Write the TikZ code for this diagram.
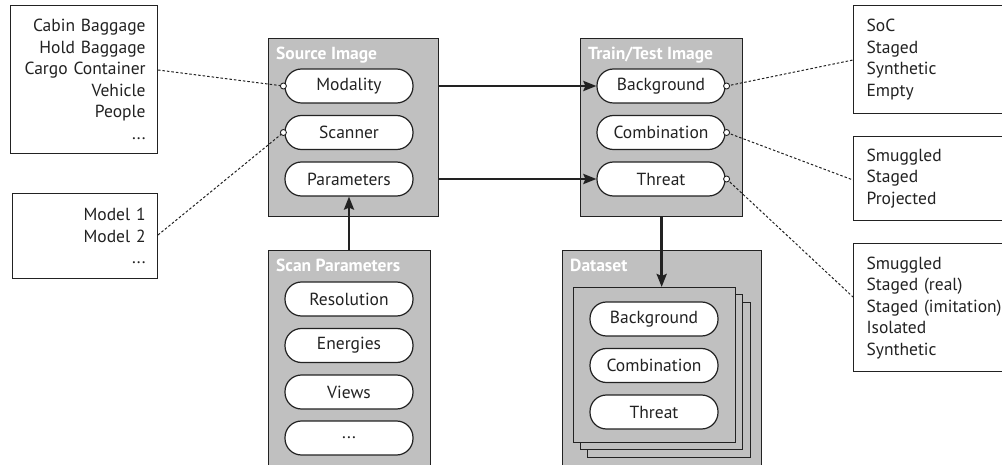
\documentclass[tikz,border=0pt]{standalone}
\usepackage{fontspec}
\setmainfont{PT Sans}
\usetikzlibrary{arrows.meta,calc}
\definecolor{panelgray}{HTML}{C0C0C0}
\definecolor{ink}{HTML}{222222}

\begin{document}
\begin{tikzpicture}[x=1pt,y=-1pt,
  font=\fontsize{17.5}{21.5}\selectfont,
  every node/.style={text=ink},
  panel/.style={draw=ink, fill=panelgray, line width=1.3pt, inner sep=0pt, anchor=north west},
  sheet/.style={draw=ink, fill=panelgray, line width=1.3pt},
  title/.style={anchor=base west, inner sep=0pt, text=white, font=\fontsize{17.5}{20}\selectfont\bfseries},
  pill/.style={draw=ink, fill=white, line width=1.2pt, rounded corners=16.5pt,
    minimum width=128pt, minimum height=34pt, inner sep=0pt},
  listbox/.style={draw=ink, fill=white, line width=1.2pt, inner ysep=0pt, anchor=north west},
  flow/.style={draw=ink, line width=2.6pt, -{Stealth[length=13pt,width=10pt,inset=2pt]}},
  hint/.style={draw=ink, line width=1pt, dash pattern=on 2.5pt off 2pt},
  port/.style={draw=ink, fill=white, line width=0.9pt}
]
\useasboundingbox (0,0) rectangle (1002,465);
\clip (0,0) rectangle (1002,465);

% option lists on the left
\node[listbox, minimum width=147pt, minimum height=148pt, inner xsep=12pt,
      text width=123pt, align=right] (kinds) at (10,5)
  {Cabin Baggage\\Hold Baggage\\Cargo Container\\Vehicle\\People\\...};
\node[listbox, minimum width=145pt, minimum height=85pt, inner xsep=12pt,
      text width=121pt, align=right] (models) at (12,193)
  {Model 1\\Model 2\\...};

% option lists on the right
\node[listbox, minimum width=180pt, minimum height=108pt, inner xsep=13pt,
      text width=154pt, align=left] (bgkinds) at (853,5)
  {SoC\\Staged\\Synthetic\\Empty};
\node[listbox, minimum width=180pt, minimum height=84pt, inner xsep=13pt,
      text width=154pt, align=left] (combkinds) at (853,136)
  {Smuggled\\Staged\\Projected};
\node[listbox, minimum width=180pt, minimum height=128pt, inner xsep=13pt,
      text width=154pt, align=left] (thrkinds) at (853,243)
  {Smuggled\\Staged (real)\\Staged (imitation)\\Isolated\\Synthetic};

% source image panel
\node[panel, minimum width=170pt, minimum height=178pt] (src) at (268,38) {};
\node[title] (srct) at (276,60) {Source Image};
\node[pill] (mod) at (349,86) {Modality};
\node[pill] (scn) at (349,132.5) {Scanner};
\node[pill] (par) at (349,179) {Parameters};

% scan parameters panel
\node[panel, minimum width=162pt, minimum height=240pt] (scan) at (268,250) {};
\node[title] (scant) at (276,272) {Scan Parameters};
\node[pill] (res) at (349,299) {Resolution};
\node[pill] (ene) at (349,345.5) {Energies};
\node[pill] (vie) at (349,392) {Views};
\node[pill] (etc) at (349,438) {...};

% train/test image panel
\node[panel, minimum width=162pt, minimum height=178pt] (tt) at (580,38) {};
\node[title] (ttt) at (588,60) {Train/Test Image};
\node[pill] (bg) at (661,86) {Background};
\node[pill] (comb) at (661,132.5) {Combination};
\node[pill] (thr) at (661,179) {Threat};

% dataset panel with a stack of images
\node[panel, minimum width=199pt, minimum height=240pt] (ds) at (562,250) {};
\node[title] (dst) at (570,272) {Dataset};
\node[sheet, panel, minimum width=163pt, minimum height=155pt] (s3) at (587,302) {};
\node[sheet, panel, minimum width=162pt, minimum height=155pt] (s2) at (580,294) {};
\node[sheet, panel, minimum width=162pt, minimum height=155pt] (s1) at (573,287) {};
\node[pill] (dbg) at (654,319) {Background};
\node[pill] (dcomb) at (654,365.5) {Combination};
\node[pill] (dthr) at (654,412) {Threat};

% main flow
\draw[flow] (src.east |- mod) -- (bg.west);
\draw[flow] (src.east |- par) -- (thr.west);
\draw[flow] (scan.north -| par) -- (par.south);
\draw[flow] (tt.south) -- (tt.south |- s1.north);

% dotted links to the option lists
\coordinate (kindsport) at (158,70);
\coordinate (modelsport) at (158,235);
\draw[hint] (kindsport) -- ([xshift=-1pt]mod.west);
\draw[hint] (modelsport) -- ([xshift=-1pt]scn.west);
\draw[hint] ([xshift=1pt]bg.east) -- (bgkinds.west |- 0,60);
\draw[hint] ([xshift=1pt]comb.east) -- (combkinds.west |- 0,180);
\draw[hint] ([xshift=1pt]thr.east) -- (thrkinds.west |- 0,297);
\draw[port] ([xshift=-1pt]mod.west) circle (3pt);
\draw[port] ([xshift=-1pt]scn.west) circle (3pt);
\draw[port] ([xshift=1pt]bg.east) circle (3pt);
\draw[port] ([xshift=1pt]comb.east) circle (3pt);
\draw[port] ([xshift=1pt]thr.east) circle (3pt);
\end{tikzpicture}
\end{document}
